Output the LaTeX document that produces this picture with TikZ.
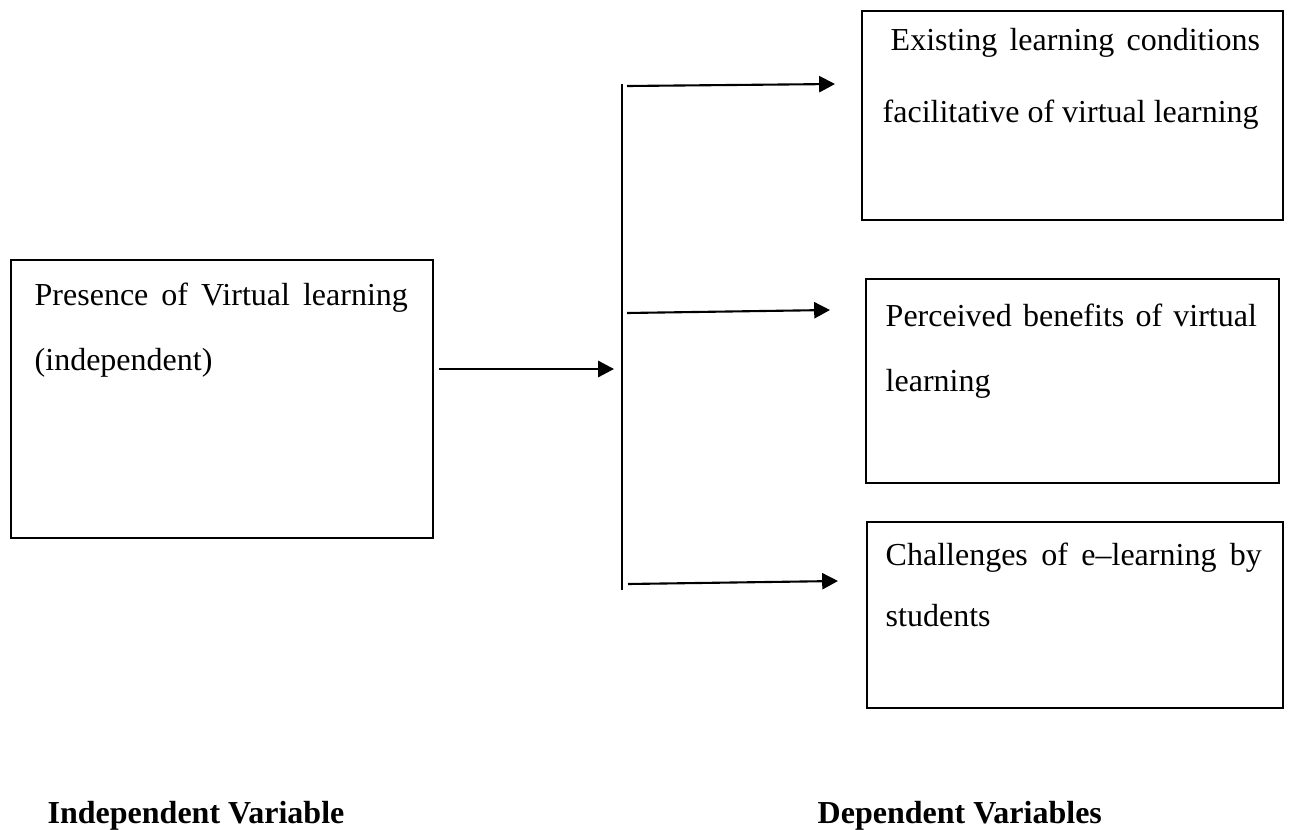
\documentclass[tikz,border=0pt]{standalone}
\usepackage{fontspec}
\setmainfont{Liberation Serif}
\usepackage{tikz}
\usetikzlibrary{arrows.meta, calc, positioning}
\newcommand{\spreadline}[2]{\makebox[#1][s]{#2}}

\begin{document}
\begin{tikzpicture}[x=0.01cm, y=-0.01cm,
	box/.style={draw=black, line width=0.6pt, anchor=north west, inner sep=0pt},
	boxtext/.style={anchor=base west, inner sep=0pt, align=flush left, text width=3.9cm,
		font=\fontsize{9.1}{18.5}\selectfont},
	varlabel/.style={anchor=base west, inner sep=0pt, font=\fontsize{9.1}{11}\selectfont\bfseries},
	arr/.style={line width=0.6pt, -{Triangle[length=4.5pt, width=4.6pt]}}]

	\useasboundingbox (0,0) rectangle (1290,830);

	\node[box, minimum width=4.22cm, minimum height=2.78cm] (pres) at (10,259) {};
	\node[box, minimum width=4.21cm, minimum height=2.09cm] (exist) at (861,10) {};
	\node[box, minimum width=4.13cm, minimum height=2.04cm] (percv) at (865,278) {};
	\node[box, minimum width=4.16cm, minimum height=1.86cm] (chall) at (866,521) {};

	\node[boxtext] (prestxt) at (34,305) {\spreadline{3.73cm}{Presence of Virtual learning}\\(independent)};
	\node[boxtext] (existtxt) at (882,50) {\hspace*{0.08cm}\spreadline{3.69cm}{Existing learning conditions}\\[2pt]facilitative of virtual learning};
	\node[boxtext] (percvtxt) at (885,326) {\spreadline{3.71cm}{Perceived benefits of virtual}\\learning};
	\node[boxtext] (challtxt) at (885,565) {\spreadline{3.76cm}{Challenges of e--learning by}\\[-1pt]students};

	% bar and branch points
	\coordinate (bartop) at (622,84);
	\coordinate (barbot) at (622,590);
	\coordinate (hub) at (622,369);
	\coordinate (out1) at (627,86);
	\coordinate (out2) at (627,313);
	\coordinate (out3) at (628,584);
	\coordinate (in1) at (835,84);
	\coordinate (in2) at (830,310);
	\coordinate (in3) at (838,581);

	\draw[line width=0.6pt] (bartop) -- (barbot);
	\draw[arr] (pres.east |- hub) ++(5,0) -- ($(hub)+(-8,0)$);
	\draw[arr] (out1) -- (in1);
	\draw[arr] (out2) -- (in2);
	\draw[arr] (out3) -- (in3);

	\node[varlabel] (indep) at (47,823) {Independent Variable};
	\node[varlabel] (dep) at (817,823) {Dependent Variables};

\end{tikzpicture}
\end{document}
